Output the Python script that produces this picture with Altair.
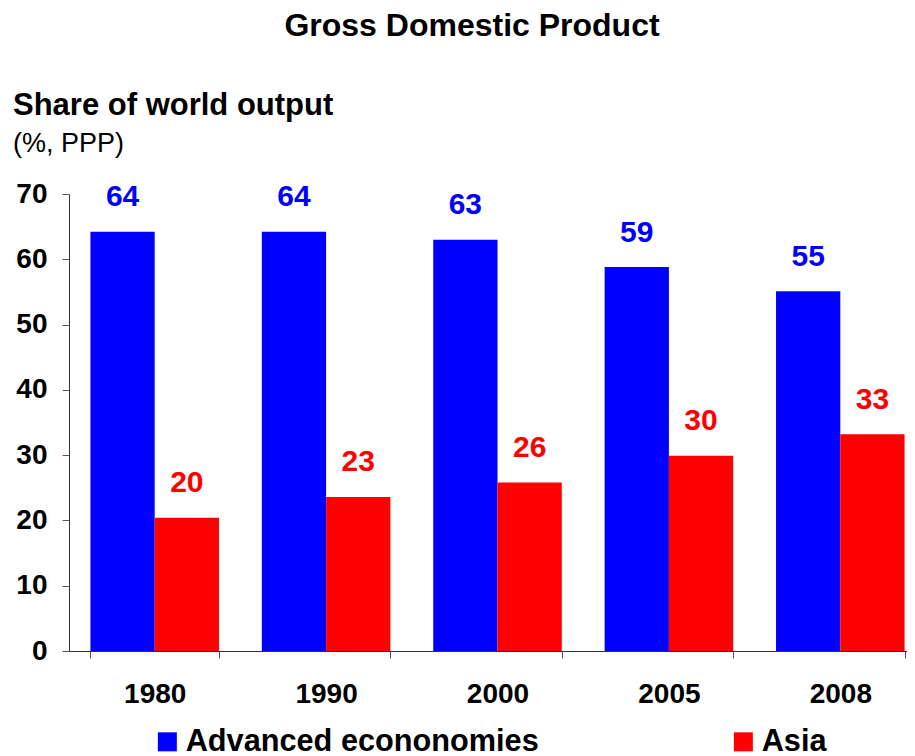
import altair as alt
import pandas as pd

years = ["1980", "1990", "2000", "2005", "2008"]
series = ["Advanced econonomies", "Asia"]
advanced = [64.2, 64.2, 63.0, 58.8, 55.1]
asia = [20.4, 23.6, 25.8, 29.9, 33.2]
advanced_labels = ["64", "64", "63", "59", "55"]
asia_labels = ["20", "23", "26", "30", "33"]
colors = ["#0000FF", "#FF0000"]
y_ticks = [0, 10, 20, 30, 40, 50, 60, 70]
title_text = "Gross Domestic Product"
subtitle_text = "Share of world output"
unit_text = "(%, PPP)"

rows = []
for i, yr in enumerate(years):
    rows.append({"year": yr, "series": series[0], "value": advanced[i], "label": advanced_labels[i]})
    rows.append({"year": yr, "series": series[1], "value": asia[i], "label": asia_labels[i]})
df = pd.DataFrame(rows)

FONT = "Liberation Sans"
W, H = 838, 457

x_enc = alt.X(
    "year:N", sort=years,
    scale=alt.Scale(range=[0, 857], paddingInner=0.25, paddingOuter=0.125),
    axis=alt.Axis(title=None, labelAngle=0, tickBand="extent", ticks=True, tickSize=7,
                  labelPadding=22, labelFontSize=28, labelFontWeight="bold", labelFont=FONT,
                  labelColor="black", domainColor="#333333", tickColor="#555555", grid=False),
)
xoff = alt.XOffset("series:N", sort=series, scale=alt.Scale(paddingInner=0, paddingOuter=0))
y_enc = alt.Y(
    "value:Q",
    scale=alt.Scale(domain=[0, 70], nice=False),
    axis=alt.Axis(title=None, values=y_ticks, format="d", tickSize=7, labelPadding=15,
                  labelFontSize=28, labelFontWeight="bold", labelFont=FONT, labelColor="black",
                  domainColor="#333333", tickColor="#555555", grid=False),
)
color = alt.Color(
    "series:N", sort=series,
    scale=alt.Scale(domain=series, range=colors),
    legend=alt.Legend(title=None, orient="none", legendX=83, legendY=532, direction="horizontal",
                      symbolType="square", symbolSize=361, symbolStrokeWidth=0,
                      labelFontSize=30.7, labelFontWeight="bold", labelFont=FONT, labelColor="black",
                      labelLimit=600, labelOffset=3, columnPadding=189, padding=0),
)

bars = alt.Chart(df).mark_bar().encode(x=x_enc, xOffset=xoff, y=y_enc, color=color)
labels = alt.Chart(df).mark_text(dy=-25.5, baseline="alphabetic", align="center", fontSize=30,
                                 fontWeight="bold", font=FONT).encode(
    x=x_enc, xOffset=xoff, y=y_enc, text="label:N", color=color)

def note(txt, x, y, size, weight, align):
    return alt.Chart(pd.DataFrame({"t": [txt]})).mark_text(
        fontSize=size, fontWeight=weight, font=FONT, align=align, baseline="alphabetic",
        color="black").encode(text="t:N", x=alt.value(x), y=alt.value(y))

title = note(title_text, 403, -158, 32, "bold", "center")
sub = note(subtitle_text, -56, -79, 31, "bold", "left")
unit = note(unit_text, -56, -42, 27, "normal", "left")

chart = alt.layer(bars, labels, title, sub, unit).properties(
    width=W, height=H,
    autosize=alt.AutoSizeParams(type="none"),
    padding={"left": 61, "top": 186, "right": 0, "bottom": 110},
).configure_view(stroke=None)

chart.save("out.html", embed_options={"renderer": "svg", "actions": False})
